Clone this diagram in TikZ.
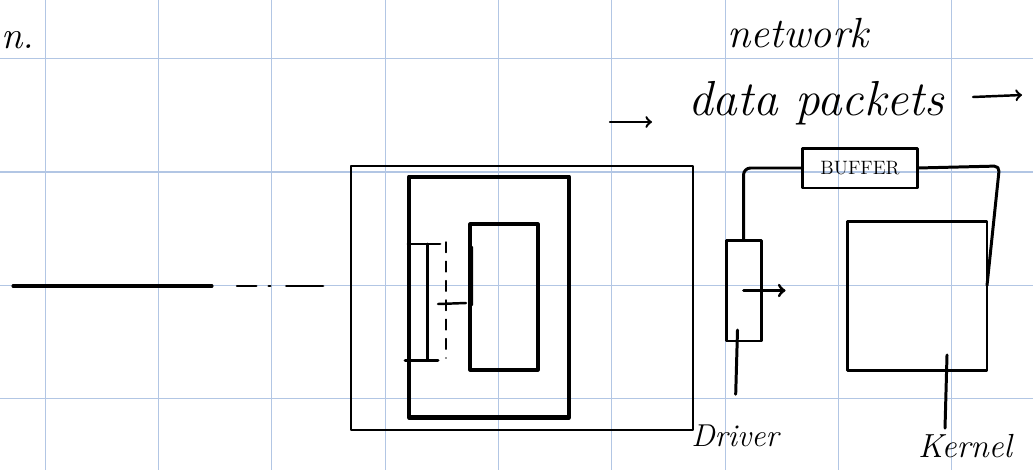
\documentclass[tikz,border=0pt]{standalone}
\usetikzlibrary{calc}

\definecolor{gridblue}{RGB}{178,198,228}
\tikzset{
    pen/.style={line width=1.4pt, line cap=round, line join=round},
    box/.style={pen, draw, inner sep=0pt, outer sep=0pt},
    hand/.style={font=\fontsize{#1}{#1}\selectfont\itshape},
    hand/.default=22,
}

\begin{document}
\begin{tikzpicture}[x=0.02cm, y=-0.02cm]
    \useasboundingbox (0,0) rectangle (1033,470);

    % paper grid
    \foreach \i in {0,...,8}
        \draw[gridblue, line width=0.6pt] ({45.3+113.3*\i},0) -- ({45.3+113.3*\i},470);
    \foreach \j in {0,...,3}
        \draw[gridblue, line width=0.6pt] (0,{58.7+113.3*\j}) -- (1033,{58.7+113.3*\j});

    \node[box, minimum width=6.84cm, minimum height=5.28cm] (host) at (522,298) {};
    \node[box, line width=2.3pt, minimum width=3.2cm, minimum height=4.82cm] (frame) at (489,297) {};
    \node[box, line width=1.8pt, minimum width=1.36cm, minimum height=2.92cm] (window) at (504,297) {};
    \node[box, line width=1.7pt, minimum width=0.7cm, minimum height=2.02cm] (driver) at (743.5,290.5) {};
    \node[box, line width=1.7pt, minimum width=2.3cm, minimum height=0.8cm, font=\fontsize{11}{13}\selectfont] (buffer) at (860,168) {BUFFER};
    \node[box, line width=1.7pt, minimum width=2.8cm, minimum height=3cm] (kernel) at (917,296) {};

    \node[hand=24] (net) at (798,33) {network};
    \node[hand=28] (packets) at (816,103) {data packets};
    \node[hand, anchor=west, inner sep=0pt] (cut) at (1,40) {n.};
    \node[hand=18] (drvname) at (735,436) {Driver};
    \node[hand=19] (kername) at (965,446) {Kernel};

    % the line coming in from the left
    \coordinate (wire) at (13,286);
    \coordinate (wirebreak) at (212,286);
    \coordinate (wiredash) at (237,286);
    \draw[pen, line width=1.8pt] (wire) -- (wirebreak);
    \draw[pen, dash pattern=on 11pt off 7pt on 1pt off 9pt on 21pt off 20pt] (wiredash) -- (wiredash -| host.west);

    % marks inside the frame
    \draw[pen, line width=1.7pt] (408,244) -- (440,244) (427,244) -- (427,360) (405,360) -- (438,360);
    \draw[pen, line width=0.8pt, dash pattern=on 6pt off 5pt] (446,242) -- (446,358);
    \draw[pen] (438,304) -- (466,303) (472,247) -- (472,305);

    \draw[pen, line width=1.7pt, rounded corners=4pt] (driver.north) |- (buffer.west);
    \coordinate (tap) at ($(kernel.north east)!0.43!(kernel.south east)$);
    \draw[pen, line width=1.7pt, rounded corners=3pt] (buffer.east) -- ++(82,-2) -- (tap);
    \draw[pen, line width=1.7pt, ->] (driver.center) -- ++(42,0);

    \draw[pen, line width=1.7pt, shorten >=14pt] ($(driver.south)+(-6,-11)$) -- (drvname.north);
    \draw[pen, line width=1.7pt] ($(kernel.south)+(30,-16)$) -- (kername.north -| 945,0);

    \coordinate (inflow) at (610,122);
    \coordinate (outflow) at (973,97);
    \draw[pen, ->] (inflow) -- ++(42,0);
    \draw[pen, ->] (outflow) -- ++(49,-2);
\end{tikzpicture}
\end{document}
